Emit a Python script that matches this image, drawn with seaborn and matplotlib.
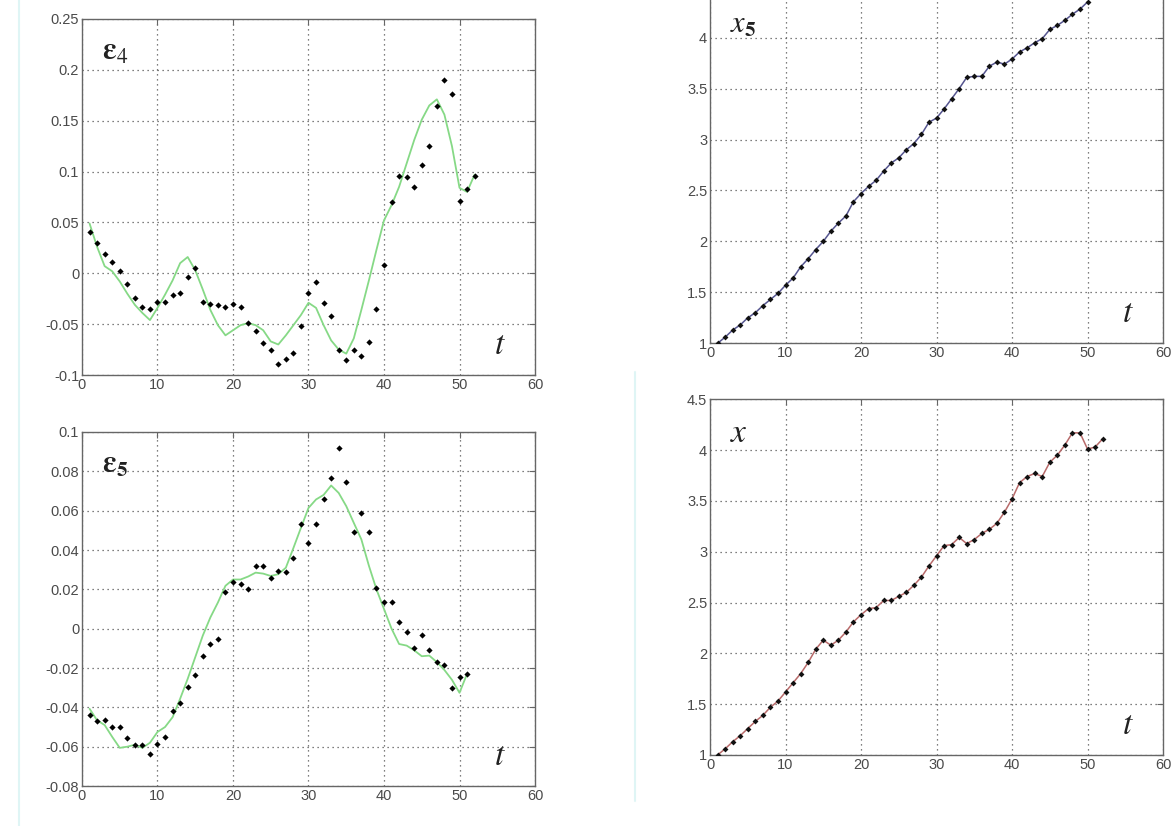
import numpy as np
import pandas as pd
import matplotlib.pyplot as plt
import seaborn as sns
from matplotlib.lines import Line2D

# time axis
t52 = list(range(1, 53))
t51 = list(range(1, 52))
t50 = list(range(1, 51))

# eps4: observed points and model curve
eps4_pts = [0.041, 0.030, 0.019, 0.011, 0.002, -0.011, -0.024, -0.033, -0.035, -0.028,
            -0.028, -0.021, -0.019, -0.004, 0.005, -0.028, -0.030, -0.031, -0.033, -0.030,
            -0.033, -0.049, -0.057, -0.069, -0.075, -0.089, -0.084, -0.078, -0.052, -0.019,
            -0.009, -0.029, -0.042, -0.075, -0.085, -0.075, -0.081, -0.068, -0.035, 0.008,
            0.070, 0.096, 0.095, 0.085, 0.106, 0.125, 0.164, 0.190, 0.176, 0.071,
            0.083, 0.096]
eps4_fit = [0.049, 0.026, 0.007, 0.002, -0.008, -0.020, -0.031, -0.039, -0.046, -0.034,
            -0.021, -0.007, 0.010, 0.016, 0.003, -0.016, -0.036, -0.051, -0.061, -0.056,
            -0.051, -0.049, -0.051, -0.056, -0.067, -0.070, -0.061, -0.051, -0.041, -0.029,
            -0.034, -0.051, -0.066, -0.075, -0.079, -0.064, -0.036, -0.007, 0.023, 0.052,
            0.067, 0.085, 0.108, 0.131, 0.151, 0.165, 0.171, 0.156, 0.125, 0.084,
            0.080, 0.097]

# eps5: observed points and model curve
eps5_pts = [-0.0437, -0.047, -0.0466, -0.050, -0.050, -0.0555, -0.059, -0.059, -0.0635, -0.0587,
            -0.055, -0.042, -0.0376, -0.0297, -0.0235, -0.014, -0.0078, -0.0052, 0.0189, 0.0238,
            0.0226, 0.0204, 0.0319, 0.0319, 0.026, 0.0295, 0.0289, 0.0357, 0.053, 0.0437,
            0.053, 0.066, 0.0768, 0.0918, 0.0748, 0.049, 0.0586, 0.049, 0.0209, 0.0138,
            0.0138, 0.0032, -0.0017, -0.010, -0.0032, -0.0106, -0.017, -0.0187, -0.030, -0.0248,
            -0.0228]
eps5_fit = [-0.0407, -0.0466, -0.049, -0.055, -0.0606, -0.060, -0.059, -0.0606, -0.058, -0.0525,
            -0.050, -0.045, -0.0356, -0.0255, -0.0145, -0.0035, 0.0057, 0.0133, 0.0218, 0.025,
            0.025, 0.0265, 0.0285, 0.028, 0.0268, 0.0277, 0.031, 0.041, 0.0513, 0.0614,
            0.0657, 0.068, 0.0728, 0.069, 0.0623, 0.0538, 0.0454, 0.032, 0.020, 0.010,
            0.000, -0.0078, -0.0086, -0.011, -0.014, -0.0137, -0.017, -0.021, -0.026, -0.0326,
            -0.023]

# x5 and x series
x5_vals = [1.00, 1.06, 1.13, 1.18, 1.25, 1.30, 1.37, 1.43, 1.49, 1.57,
           1.64, 1.75, 1.83, 1.92, 2.00, 2.10, 2.18, 2.25, 2.39, 2.47,
           2.54, 2.60, 2.69, 2.77, 2.82, 2.90, 2.96, 3.05, 3.17, 3.21,
           3.30, 3.40, 3.50, 3.61, 3.62, 3.62, 3.72, 3.76, 3.74, 3.79,
           3.86, 3.90, 3.95, 3.99, 4.08, 4.12, 4.17, 4.23, 4.28, 4.35]
x_vals = [1.00, 1.06, 1.13, 1.19, 1.26, 1.33, 1.39, 1.47, 1.53, 1.62,
          1.71, 1.80, 1.91, 2.04, 2.13, 2.08, 2.13, 2.21, 2.31, 2.38,
          2.44, 2.45, 2.52, 2.52, 2.56, 2.60, 2.67, 2.75, 2.86, 2.96,
          3.06, 3.07, 3.14, 3.08, 3.12, 3.18, 3.22, 3.28, 3.39, 3.52,
          3.68, 3.74, 3.77, 3.74, 3.88, 3.95, 4.05, 4.17, 4.17, 4.01,
          4.03, 4.11]

x_ticks = [0, 10, 20, 30, 40, 50, 60]
eps4_ticks = [-0.1, -0.05, 0, 0.05, 0.1, 0.15, 0.2, 0.25]
eps4_labels = ['-0.1', '-0.05', '0', '0.05', '0.1', '0.15', '0.2', '0.25']
eps5_ticks = [-0.08, -0.06, -0.04, -0.02, 0, 0.02, 0.04, 0.06, 0.08, 0.1]
eps5_labels = ['-0.08', '-0.06', '-0.04', '-0.02', '0', '0.02', '0.04', '0.06', '0.08', '0.1']
lvl_ticks = [1, 1.5, 2, 2.5, 3, 3.5, 4, 4.5]
lvl_labels = ['1', '1.5', '2', '2.5', '3', '3.5', '4', '4.5']

sns.set_style("white")
plt.rcParams['font.family'] = ['Liberation Sans', 'DejaVu Sans']
plt.rcParams['mathtext.fontset'] = 'stix'

GREEN = '#86d986'
TICK_COLOR = '#4a4a4a'


def style_axes(ax, yticks, ylabels, ylim):
    ax.set_xlim(0, 60)
    ax.set_ylim(*ylim)
    ax.set_xticks(x_ticks)
    ax.set_xticklabels([str(v) for v in x_ticks])
    ax.set_yticks(yticks)
    ax.set_yticklabels(ylabels)
    ax.grid(True, linestyle=(0, (1, 3)), color='#555555', linewidth=0.9)
    ax.tick_params(direction='in', length=4, width=0.8, colors='#666666',
                   labelcolor=TICK_COLOR, labelsize=10.5, pad=2, top=True, right=True)
    for sp in ax.spines.values():
        sp.set_color('#666666')
        sp.set_linewidth(1.0)
    ax.set_xlabel('')
    ax.set_ylabel('')
    ax.text(0.91, 0.06, r'$t$', transform=ax.transAxes, fontsize=24, color='#222222')


def plot_eps(ax, t_pts, pts, t_fit, fit):
    sns.lineplot(x=t_fit, y=fit, ax=ax, color=GREEN, linewidth=1.3)
    sns.scatterplot(x=t_pts, y=pts, ax=ax, color='black', s=10, marker='D',
                    linewidth=0, zorder=3)


def plot_level(ax, t, vals, line_color):
    sns.lineplot(x=t, y=vals, ax=ax, color=line_color, linewidth=1.1)
    sns.scatterplot(x=t, y=vals, ax=ax, color='#111111', s=9, marker='D',
                    linewidth=0, zorder=3)


fig = plt.figure(figsize=(11.73, 8.26), dpi=100)

ax1 = fig.add_axes([0.0699, 0.546, 0.3862, 0.431])
plot_eps(ax1, t52, eps4_pts, t52, eps4_fit)
style_axes(ax1, eps4_ticks, eps4_labels, (-0.1, 0.25))
ax1.text(0.045, 0.885, r'$\mathbf{\varepsilon}_{\mathit{4}}$', transform=ax1.transAxes,
         fontsize=22, color='#222222')

ax2 = fig.add_axes([0.0699, 0.0484, 0.3862, 0.4286])
plot_eps(ax2, t51, eps5_pts, t51, eps5_fit)
style_axes(ax2, eps5_ticks, eps5_labels, (-0.08, 0.1))
ax2.text(0.045, 0.885, r'$\mathbf{\varepsilon}_{\mathbf{5}}$', transform=ax2.transAxes,
         fontsize=22, color='#222222')

ax3 = fig.add_axes([0.6053, 0.5844, 0.3862, 0.4317])
plot_level(ax3, t50, x5_vals, '#55558f')
style_axes(ax3, lvl_ticks[:-1], lvl_labels[:-1], (1, 4.5))
ax3.text(0.045, 0.87, r'$x_{\mathbf{5}}$', transform=ax3.transAxes, fontsize=22,
         color='#222222')

ax4 = fig.add_axes([0.6053, 0.086, 0.3862, 0.4306])
plot_level(ax4, t52, x_vals, '#b86a6a')
style_axes(ax4, lvl_ticks, lvl_labels, (1, 4.5))
ax4.text(0.045, 0.88, r'$x$', transform=ax4.transAxes, fontsize=24, color='#222222')

# faint scan edges
fig.add_artist(Line2D([0.016, 0.016], [0.0, 1.0], color='#dff5f5', linewidth=1.5))
fig.add_artist(Line2D([0.541, 0.541], [0.03, 0.55], color='#dff5f5', linewidth=1.5))

fig.savefig('out.png', dpi=100, facecolor='white')
plt.close(fig)
